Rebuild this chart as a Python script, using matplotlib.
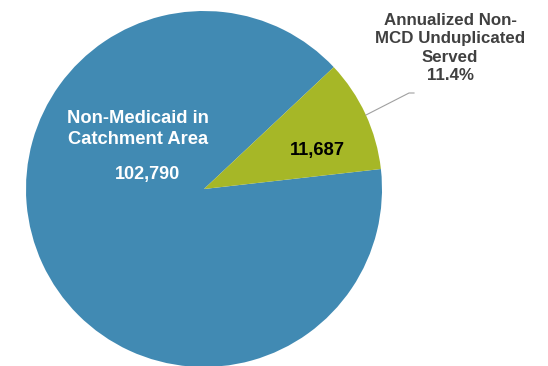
import matplotlib
matplotlib.use("Agg")
import matplotlib.pyplot as plt
from matplotlib.lines import Line2D

labels = ["Non-Medicaid in\nCatchment Area", "Annualized Non-\nMCD Unduplicated\nServed"]
values = [102790, 11687]
value_labels = ["102,790", "11,687"]
pct_label = "11.4%"
colors = ["#418AB3", "#A6B727"]

plt.rcParams['font.family'] = ['Liberation Sans', 'DejaVu Sans']

W, H = 548, 366
fig = plt.figure(figsize=(W / 100, H / 100), dpi=100)
cx, cy, r = 204, 189, 178
ax = fig.add_axes([(cx - r) / W, (H - cy - r) / H, 2 * r / W, 2 * r / H])
ax.pie(values, colors=colors, startangle=43.2, counterclock=True,
       wedgeprops=dict(linewidth=0))
ax.set_xlim(-1, 1)
ax.set_ylim(-1, 1)
ax.set_aspect('equal')
ax.axis('off')

def fx(x):
    return x / W

def fy(y):
    return 1 - y / H

fig.text(fx(138), fy(129), labels[0], color="white", fontsize=13.2, fontweight="bold",
         ha="center", va="center", linespacing=1.3)
fig.text(fx(147), fy(175), value_labels[0], color="white", fontsize=13, fontweight="bold",
         ha="center", va="center")
fig.text(fx(317), fy(151), value_labels[1], color="black", fontsize=13.2, fontweight="bold",
         ha="center", va="center")
fig.text(fx(450), fy(48), labels[1] + "\n" + pct_label, color="#404040", fontsize=12.2,
         fontweight="bold", ha="center", va="center", linespacing=1.27)

fig.add_artist(Line2D([fx(366), fx(409), fx(414)], [fy(115), fy(93), fy(93)],
                      color="#A0A0A0", linewidth=0.8, transform=fig.transFigure))

fig.savefig("out.png", dpi=100)
